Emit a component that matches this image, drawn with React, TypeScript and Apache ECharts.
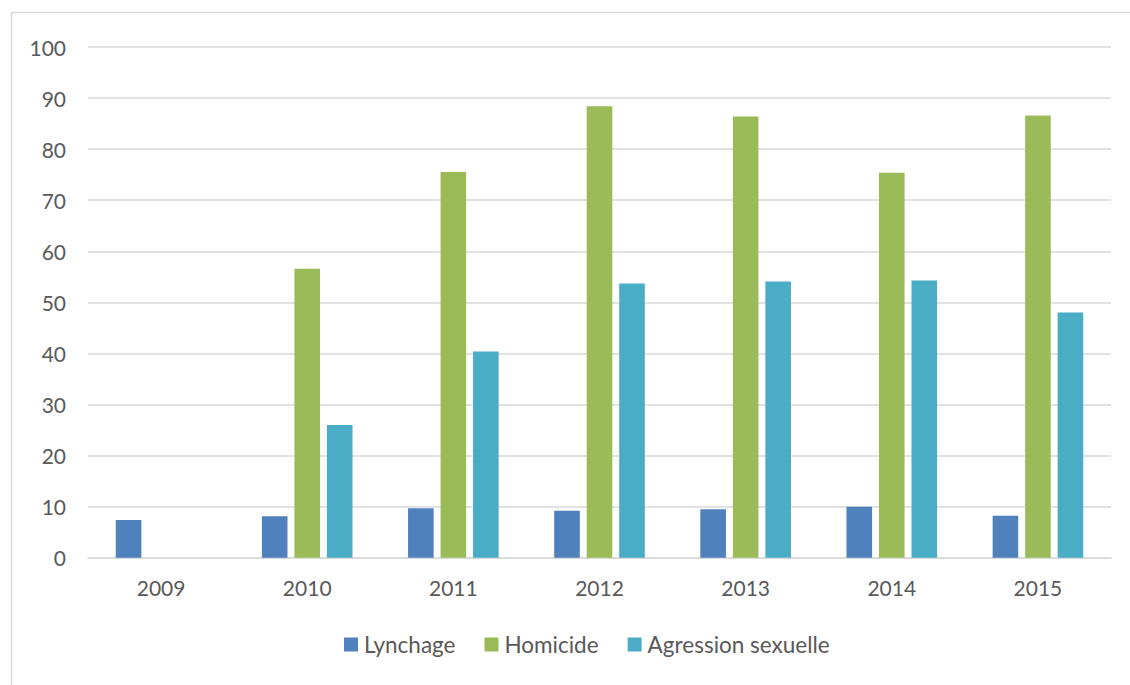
import React, { useEffect, useRef } from "react";
import * as echarts from "echarts";

const years = ["2009", "2010", "2011", "2012", "2013", "2014", "2015"];
const lynchage = [7.4, 8.1, 9.7, 9.2, 9.5, 10.0, 8.2];
const homicide = [null, 56.6, 75.5, 88.4, 86.4, 75.4, 86.6];
const agression = [null, 26.0, 40.4, 53.7, 54.1, 54.3, 48.0];
const yTicks = { min: 0, max: 100, interval: 10 };

const FONT = "Lato, 'Noto Sans', sans-serif";
const TEXT = "#595959";
const GRID = "#d9d9d9";

export default function App() {
  const ref = useRef<HTMLDivElement>(null);

  useEffect(() => {
    if (!ref.current) return;
    const chart = echarts.init(ref.current, null, { renderer: "svg" });
    const bar = (name: string, data: (number | null)[], color: string) => ({
      name,
      type: "bar",
      data,
      itemStyle: { color },
      barGap: "27%",
      barCategoryGap: "38%",
    });
    chart.setOption({
      animation: false,
      backgroundColor: "#ffffff",
      textStyle: { fontFamily: FONT },
      graphic: [
        {
          type: "rect",
          shape: { x: 11.5, y: 12.5, width: 1140, height: 700 },
          style: { fill: "none", stroke: GRID, lineWidth: 1.5 },
          silent: true,
        },
      ],
      grid: { left: 88, right: 19, top: 47, bottom: 127.3 },
      legend: {
        bottom: 29,
        left: 344,
        padding: 0,
        itemWidth: 14,
        itemHeight: 14,
        itemGap: 29,
        icon: "rect",
        textStyle: { color: TEXT, fontSize: 22.5, fontFamily: FONT, padding: [0, 0, 0, 1] },
        data: ["Lynchage", "Homicide", "Agression sexuelle"],
      },
      xAxis: {
        type: "category",
        data: years,
        axisLine: { lineStyle: { color: GRID, width: 1.5 } },
        axisTick: { show: false },
        axisLabel: { color: TEXT, fontSize: 21, margin: 19, fontFamily: FONT },
      },
      yAxis: {
        type: "value",
        min: yTicks.min,
        max: yTicks.max,
        interval: yTicks.interval,
        axisLine: { show: false },
        axisTick: { show: false },
        axisLabel: { color: TEXT, fontSize: 21, margin: 22, fontFamily: FONT },
        splitLine: { lineStyle: { color: GRID, width: 1.5 } },
      },
      series: [
        bar("Lynchage", lynchage, "#4f81bd"),
        bar("Homicide", homicide, "#9bbb59"),
        bar("Agression sexuelle", agression, "#4bacc6"),
      ],
    });
    return () => chart.dispose();
  }, []);

  return (
    <div
      ref={ref}
      style={{ position: "fixed", left: 0, top: 0, width: 1130, height: 685 }}
    />
  );
}
